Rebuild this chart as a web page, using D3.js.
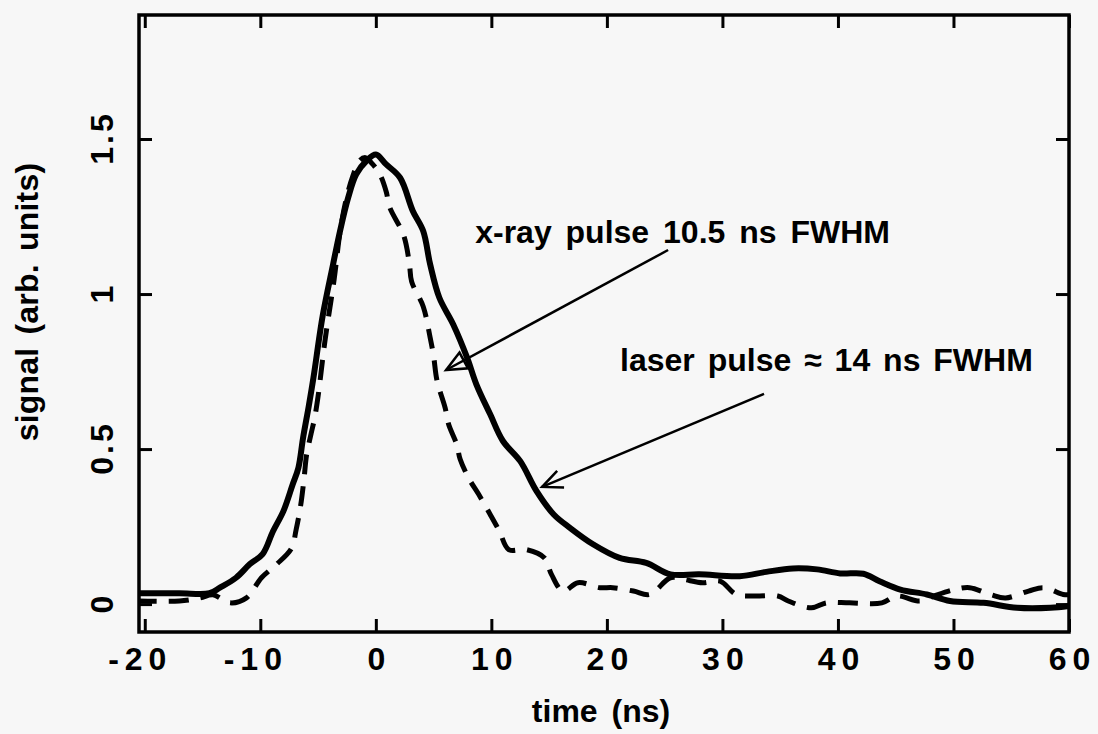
<!DOCTYPE html>
<html><head><meta charset="utf-8">
<script src="https://cdn.jsdelivr.net/npm/d3@7"></script>
<style>
body{margin:0;background:#f7f7f7;}
svg{display:block;}
text{font-family:"Liberation Sans",Arial,Helvetica,sans-serif;font-weight:bold;fill:#000;}
</style>
</head><body>
<svg id="c" width="1098" height="734"></svg>
<script>
// ---- data ----
const xTicks = [-20, -10, 0, 10, 20, 30, 40, 50, 60];
const xTickLabels = ["-20", "-10", "0", "10", "20", "30", "40", "50", "60"];
const yTicks = [0, 0.5, 1, 1.5];
const yTickLabels = ["0", "0.5", "1", "1.5"];
const xTitle = "time (ns)";
const yTitle = "signal (arb. units)";

// laser pulse (solid)
const laserT = [-20.6, -17, -14.4, -13.5, -12.1, -10.9, -9.8, -8.9, -8.0, -7.2, -6.7, -6.3, -5.8, -5.4, -4.6, -3.7, -3.1, -2.4, -1.7, -0.8, 0, 0.9, 2.1, 3.2, 4.1, 4.7, 5.5, 6.7, 7.9, 8.7, 9.9, 11.0, 12.5, 13.9, 15.4, 16.8, 18.8, 21.1, 23.4, 25.5, 28, 31.5, 33.8, 36.1, 38.2, 40.2, 42.2, 43.6, 45.4, 47.7, 49.7, 52.6, 55.5, 58.4, 60];
const laserV = [0.035, 0.035, 0.035, 0.053, 0.085, 0.129, 0.161, 0.235, 0.30, 0.386, 0.44, 0.536, 0.64, 0.73, 0.93, 1.096, 1.203, 1.31, 1.386, 1.43, 1.45, 1.418, 1.375, 1.268, 1.203, 1.096, 0.988, 0.902, 0.795, 0.709, 0.612, 0.526, 0.461, 0.365, 0.289, 0.246, 0.193, 0.149, 0.133, 0.096, 0.096, 0.09, 0.104, 0.115, 0.112, 0.099, 0.098, 0.074, 0.047, 0.031, 0.01, 0.004, -0.012, -0.012, -0.006];

// x-ray pulse (dashed)
const xrayT = [-20.7, -17, -15.2, -14.1, -12.6, -11.2, -9.9, -8.6, -7.3, -6.9, -6.5, -6.2, -6.0, -5.6, -5.3, -5.0, -4.4, -3.6, -3.1, -2.6, -2.0, -1.4, -0.9, -0.3, 0.35, 0.9, 1.2, 2.4, 2.9, 3.1, 4.1, 4.7, 5.0, 5.3, 6.0, 6.3, 7.0, 7.3, 8.1, 8.9, 9.9, 10.7, 11.5, 13.0, 14.6, 15.2, 16.2, 17.5, 19.4, 20.5, 22.3, 23.7, 25.5, 26.6, 28.3, 29.8, 31.2, 32.8, 34.8, 35.7, 37.7, 39, 41, 43.8, 45.1, 47.1, 48.3, 50.1, 51.4, 53.2, 54.5, 56.5, 57.8, 59.5, 60];
const xrayV = [0.01, 0.01, 0.02, 0.03, 0.004, 0.02, 0.085, 0.128, 0.18, 0.24, 0.32, 0.41, 0.48, 0.55, 0.60, 0.67, 0.85, 1.05, 1.20, 1.30, 1.38, 1.43, 1.44, 1.42, 1.386, 1.33, 1.28, 1.19, 1.10, 1.04, 0.96, 0.86, 0.80, 0.72, 0.633, 0.58, 0.515, 0.467, 0.402, 0.354, 0.289, 0.235, 0.176, 0.176, 0.149, 0.096, 0.042, 0.069, 0.053, 0.053, 0.042, 0.031, 0.085, 0.08, 0.069, 0.074, 0.031, 0.026, 0.026, 0.01, -0.012, 0.004, 0.004, 0.004, 0.026, 0.01, 0.026, 0.047, 0.053, 0.031, 0.02, 0.042, 0.053, 0.031, 0.03];

const annXray = "x-ray pulse 10.5 ns FWHM";
const annLaser = "laser pulse \u2248 14 ns FWHM";

// ---- layout ----
const svg = d3.select("#c");
const L = 139, R = 1069, T = 15, B = 632;
const x = d3.scaleLinear().domain([-20.5, 60]).range([L, R]);
const y = d3.scaleLinear().domain([-0.09, 1.9]).range([B, T]);

svg.append("rect").attr("width", 1098).attr("height", 734).attr("fill", "#f7f7f7");

svg.append("clipPath").attr("id", "clip").append("rect")
  .attr("x", L).attr("y", T).attr("width", R - L).attr("height", B - T);

// axes (inward ticks)
const tickLen = 13;
const gB = svg.append("g").attr("transform", `translate(0,${B})`)
  .call(d3.axisBottom(x).tickValues(xTicks).tickSize(-tickLen).tickFormat((d, i) => xTickLabels[i]));
const gT = svg.append("g").attr("transform", `translate(0,${T})`)
  .call(d3.axisTop(x).tickValues(xTicks).tickSize(-tickLen).tickFormat(""));
const gL = svg.append("g").attr("transform", `translate(${L},0)`)
  .call(d3.axisLeft(y).tickValues(yTicks).tickSize(-tickLen).tickFormat((d, i) => yTickLabels[i]));
const gR = svg.append("g").attr("transform", `translate(${R},0)`)
  .call(d3.axisRight(y).tickValues(yTicks).tickSize(-tickLen).tickFormat(""));

[gB, gT, gL, gR].forEach(g => {
  g.select(".domain").remove();
  g.selectAll(".tick line").attr("stroke", "#000").attr("stroke-width", 3);
});

gB.selectAll(".tick text")
  .attr("y", 38).attr("dy", 0)
  .attr("font-size", 32)
  .style("letter-spacing", "6px")
  .attr("dx", d => (d < 0 ? -8 : 0) + 3)
  .attr("fill", "#000");

gL.selectAll(".tick text")
  .attr("x", 0).attr("y", 0).attr("dy", 0)
  .attr("text-anchor", "middle")
  .attr("font-size", 32)
  .style("letter-spacing", "3px")
  .attr("transform", `translate(${113 - L},0) rotate(-90)`)
  .attr("dx", 1.5)
  .attr("fill", "#000");

// frame
svg.append("rect").attr("x", L).attr("y", T).attr("width", R - L).attr("height", B - T)
  .attr("fill", "none").attr("stroke", "#000").attr("stroke-width", 3.5);

// titles
svg.append("text").attr("x", 601).attr("y", 722).attr("text-anchor", "middle")
  .attr("font-size", 32).style("word-spacing", "5px").text(xTitle);
svg.append("text").attr("transform", "translate(38,302) rotate(-90)").attr("text-anchor", "middle")
  .attr("font-size", 32).style("letter-spacing", "0.2px").style("word-spacing", "4px").text(yTitle);

// curves
const line = d3.line().x(d => x(d[0])).y(d => y(d[1])).curve(d3.curveCatmullRom.alpha(0.5));
const laser = laserT.map((t, i) => [t, laserV[i]]);
const xray = xrayT.map((t, i) => [t, xrayV[i]]);
const plot = svg.append("g").attr("clip-path", "url(#clip)");
plot.append("path").datum(laser).attr("d", line)
  .attr("fill", "none").attr("stroke", "#000").attr("stroke-width", 6)
  .attr("stroke-linejoin", "round").attr("stroke-linecap", "round");
plot.append("path").datum(xray).attr("d", line)
  .attr("fill", "none").attr("stroke", "#000").attr("stroke-width", 5)
  .attr("stroke-dasharray", "20 12")
  .attr("stroke-linejoin", "round");

// annotations
svg.append("text").attr("x", x(8.6)).attr("y", y(1.165)).attr("font-size", 32)
  .style("word-spacing", "5px").text(annXray);
svg.append("text").attr("x", x(21.14)).attr("y", y(0.752)).attr("font-size", 32)
  .style("word-spacing", "4px").text(annLaser);

function arrow(t0, v0, t1, v1, closed) {
  const x0 = x(t0), y0 = y(v0), x1 = x(t1), y1 = y(v1);
  svg.append("line").attr("x1", x0).attr("y1", y0).attr("x2", x1).attr("y2", y1)
    .attr("stroke", "#000").attr("stroke-width", 2.5);
  const a = Math.atan2(y0 - y1, x0 - x1), len = 22, sp = 24 * Math.PI / 180;
  const p1 = [x1 + len * Math.cos(a - sp), y1 + len * Math.sin(a - sp)];
  const p2 = [x1 + len * Math.cos(a + sp), y1 + len * Math.sin(a + sp)];
  const d = `M${p1[0]},${p1[1]}L${x1},${y1}L${p2[0]},${p2[1]}` + (closed ? "Z" : "");
  svg.append("path").attr("d", d).attr("fill", "none").attr("stroke", "#000")
    .attr("stroke-width", 2.5).attr("stroke-linejoin", "miter");
}
arrow(25.3, 1.142, 6.08, 0.755, true);
arrow(33.6, 0.678, 14.39, 0.378, false);
</script>
</body></html>
